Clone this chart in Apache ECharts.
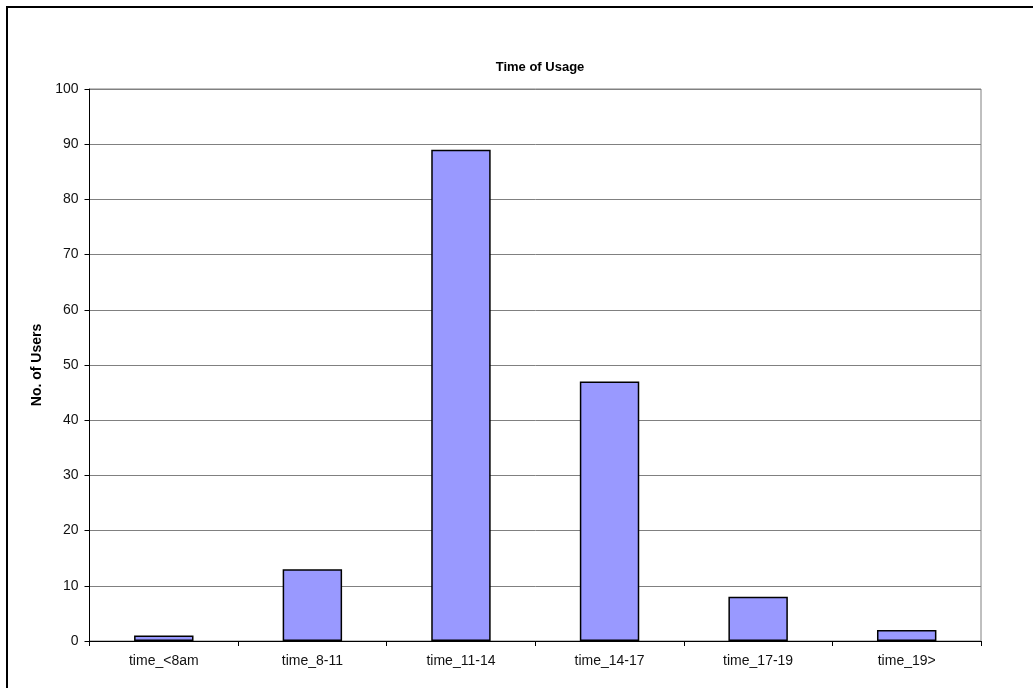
<!DOCTYPE html>
<html>
<head>
<meta charset="utf-8">
<script src="https://cdn.jsdelivr.net/npm/echarts@6/dist/echarts.min.js"></script>
<style>
html,body{margin:0;padding:0;background:#fff;}
#frame{position:absolute;left:6px;top:6px;width:1027px;height:682px;border-left:2px solid #000;border-top:2px solid #000;box-sizing:border-box;}
#chart{position:absolute;left:0;top:0;width:1033px;height:688px;}
</style>
</head>
<body>
<div id="frame"></div>
<div id="chart"></div>
<script>
var categories = ['time_<8am', 'time_8-11', 'time_11-14', 'time_14-17', 'time_17-19', 'time_19>'];
var users = [1, 13, 89, 47, 8, 2];
var yTicks = [0, 10, 20, 30, 40, 50, 60, 70, 80, 90, 100];

var chart = echarts.init(document.getElementById('chart'), null, {renderer: 'canvas'});
chart.setOption({
  animation: false,
  backgroundColor: 'transparent',
  title: {
    text: 'Time of Usage',
    left: 535, top: 56, textAlign: 'center',
    textStyle: {fontFamily: 'Liberation Sans, Arial', fontSize: 13, fontWeight: 'bold', color: '#000'}
  },
  grid: {
    left: 89.5, right: 52, top: 89, bottom: 47,
    show: true, borderColor: '#808080', borderWidth: 1, backgroundColor: 'transparent'
  },
  xAxis: {
    type: 'category',
    data: categories,
    boundaryGap: true,
    axisLine: {lineStyle: {color: '#000', width: 1}},
    axisTick: {show: true, alignWithLabel: false, length: 5, lineStyle: {color: '#000'}},
    axisLabel: {fontFamily: 'Liberation Sans, Arial', fontSize: 14, color: '#111', margin: 13, interval: 0},
    splitLine: {show: false}
  },
  yAxis: {
    type: 'value',
    min: yTicks[0], max: yTicks[yTicks.length - 1], interval: 10,
    name: 'No. of Users',
    nameLocation: 'middle',
    nameGap: 44,
    nameRotate: 90,
    nameTextStyle: {fontFamily: 'Liberation Sans, Arial', fontSize: 14, fontWeight: 'bold', color: '#000'},
    axisLine: {show: true, lineStyle: {color: '#000', width: 1}},
    axisTick: {show: true, length: 5, lineStyle: {color: '#000'}},
    axisLabel: {fontFamily: 'Liberation Sans, Arial', fontSize: 14, color: '#111', margin: 11},
    splitLine: {show: true, lineStyle: {color: '#808080', width: 1}}
  },
  series: [{
    type: 'bar',
    data: users,
    barWidth: '40%',
    itemStyle: {color: '#9999FF', borderColor: '#000', borderWidth: 1.5}
  }]
});
</script>
</body>
</html>
